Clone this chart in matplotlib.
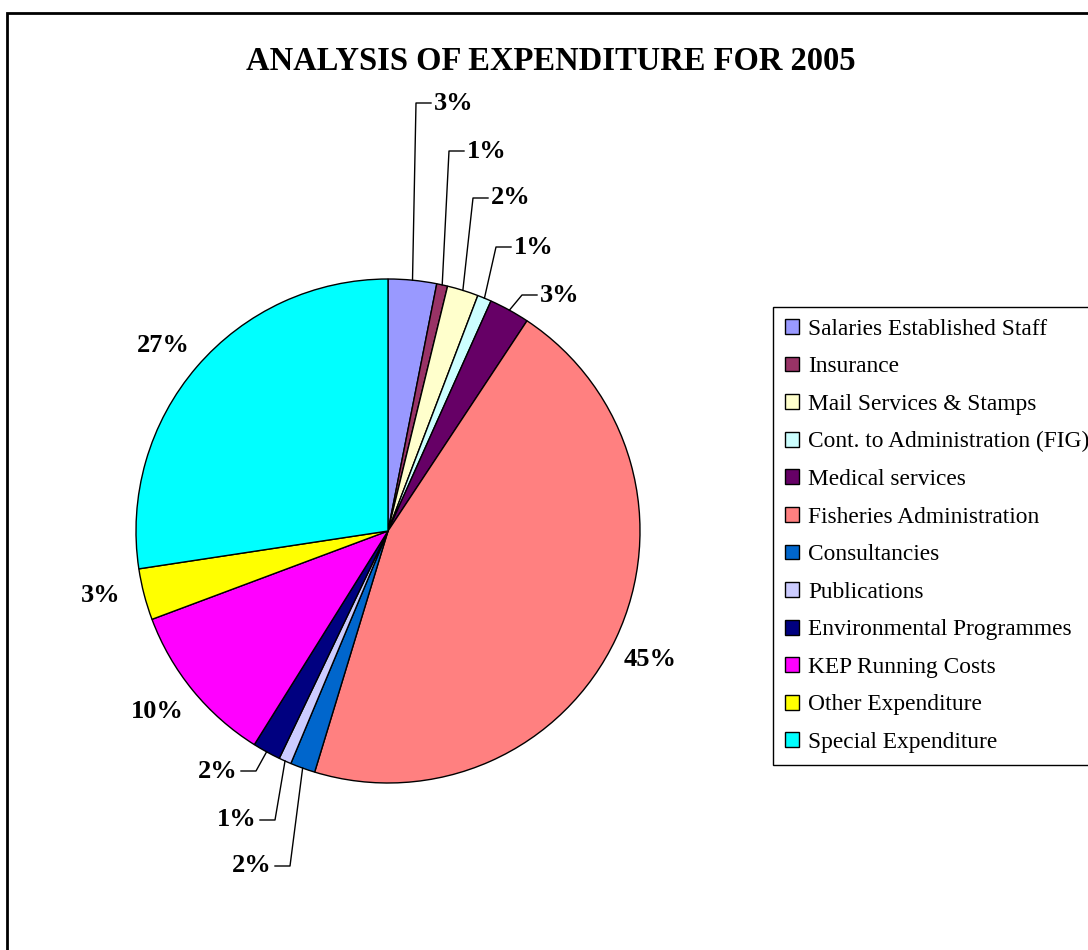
import numpy as np
import matplotlib.pyplot as plt
from matplotlib.patches import Rectangle

plt.rcParams['font.family'] = ['Liberation Serif', 'DejaVu Serif']

categories = ['Salaries Established Staff', 'Insurance', 'Mail Services & Stamps',
              'Cont. to Administration (FIG)', 'Medical services', 'Fisheries Administration',
              'Consultancies', 'Publications', 'Environmental Programmes',
              'KEP Running Costs', 'Other Expenditure', 'Special Expenditure']
shares = [3.1, 0.7, 2.0, 0.9, 2.6, 45.4, 1.6, 0.8, 1.8, 10.4, 3.3, 27.4]
colors = ['#9999FF', '#993366', '#FFFFCC', '#CCFFFF', '#660066', '#FF8080',
          '#0066CC', '#CCCCFF', '#000080', '#FF00FF', '#FFFF00', '#00FFFF']

# label layout in pixels (x, y from top); kind: 'r' = leader, text right of it,
# 'l' = leader, text left of it, 'c' = plain centred label
label_pos = [(434, 103, 'r'), (467, 151, 'r'), (491, 198, 'r'), (514, 247, 'r'),
             (540, 295, 'r'), (650, 660, 'c'), (272, 866, 'l'), (257, 820, 'l'),
             (238, 771, 'l'), (157, 711, 'c'), (101, 595, 'c'), (163, 345, 'c')]

W, H = 1088, 950
fig = plt.figure(figsize=(W / 100, H / 100), dpi=100)
ax = fig.add_axes([0, 0, 1, 1])

cx, cy, r = 388, H - 531, 252
wedges, _ = ax.pie(shares, colors=colors, startangle=90, counterclock=False,
                   center=(cx, cy), radius=r,
                   wedgeprops=dict(edgecolor='black', linewidth=1))
ax.set_xlim(0, W)
ax.set_ylim(0, H)
ax.axis('off')

total = sum(shares)
for w, val, (lx, ly, kind) in zip(wedges, shares, label_pos):
    txt = '%.0f%%' % (val / total * 100)
    ly = H - ly
    if kind == 'c':
        ax.text(lx, ly, txt, ha='center', va='center', fontsize=19, fontweight='bold')
        continue
    mid = np.deg2rad((w.theta1 + w.theta2) / 2)
    ax0, ay0 = cx + r * np.cos(mid), cy + r * np.sin(mid)
    if kind == 'r':
        ex = lx - 18
        ax.plot([ax0, ex, lx - 3], [ay0, ly, ly], color='black', lw=1)
        ax.text(lx, ly, txt, ha='left', va='center', fontsize=19, fontweight='bold')
    else:
        ex = lx + 18
        ax.plot([ax0, ex, lx + 3], [ay0, ly, ly], color='black', lw=1)
        ax.text(lx, ly, txt, ha='right', va='center', fontsize=19, fontweight='bold')

ax.text(551, H - 62, 'ANALYSIS OF EXPENDITURE FOR 2005', ha='center', va='center',
        fontsize=23.5, fontweight='bold')

# outer chart frame
ax.add_patch(Rectangle((6.5, -20), 1200, H - 12.5 + 20, fill=False,
                       edgecolor='black', lw=2, clip_on=True))

leg = ax.legend(wedges, categories, loc='upper left',
                bbox_to_anchor=(773 / W, 1 - 307 / H), bbox_transform=fig.transFigure,
                frameon=True, fancybox=False, framealpha=1, borderaxespad=0,
                fontsize=16.8, handlelength=0.6, handleheight=0.6,
                handletextpad=0.4, labelspacing=0.71, borderpad=0.5)
leg.get_frame().set_edgecolor('black')
leg.get_frame().set_linewidth(1)

fig.savefig('out.png', dpi=100)
